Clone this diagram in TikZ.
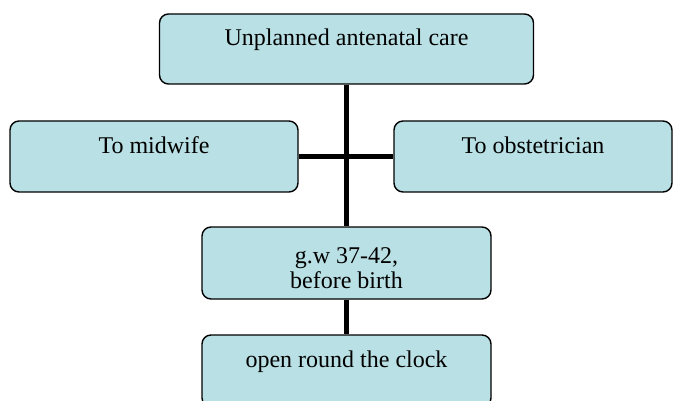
\documentclass[tikz,border=0pt]{standalone}
\usepackage{fontspec}
\setmainfont{Liberation Serif}
\usetikzlibrary{arrows,shapes}
\definecolor{boxfill}{RGB}{185,224,228}
\tikzstyle{stepbox}=[draw=black,line width=1.4pt,rounded corners=9pt,fill=boxfill,inner sep=0pt]
\tikzstyle{caption}=[anchor=north,inner sep=0pt,align=center,font=\fontsize{24}{25}\selectfont]
\tikzstyle{edge} = [draw,line width=4.6pt,-]

\begin{document}
\begin{tikzpicture}[x=1pt,y=-1pt]
    \useasboundingbox (0,0) rectangle (675,401);
    \clip (0,0) rectangle (675,401);
    % First we draw the boxes
    \node[stepbox,minimum width=374pt,minimum height=70pt,
        label={[caption,yshift=-15pt]north:Unplanned antenatal care}] (care) at (346.5,49) {};
    \node[stepbox,minimum width=288pt,minimum height=71pt,
        label={[caption,yshift=-16.5pt]north:To midwife}] (midwife) at (154,156.5) {};
    \node[stepbox,minimum width=278pt,minimum height=71pt,
        label={[caption,yshift=-16.5pt]north:To obstetrician}] (obst) at (533,156.5) {};
    \node[stepbox,minimum width=289pt,minimum height=72pt,
        label={[caption,yshift=-21pt]north:{g.w 37-42,\\before birth}}] (gw) at (346.5,263) {};
    \node[stepbox,minimum width=289pt,minimum height=72pt,
        label={[caption,yshift=-16.5pt]north:open round the clock}] (clock) at (346.5,371) {};
    
    % Connect boxes with thick lines
    \foreach \source/\dest in {care/gw, midwife/obst, gw/clock}
        \path[edge] (\source) -- (\dest);
\end{tikzpicture}
\end{document}
